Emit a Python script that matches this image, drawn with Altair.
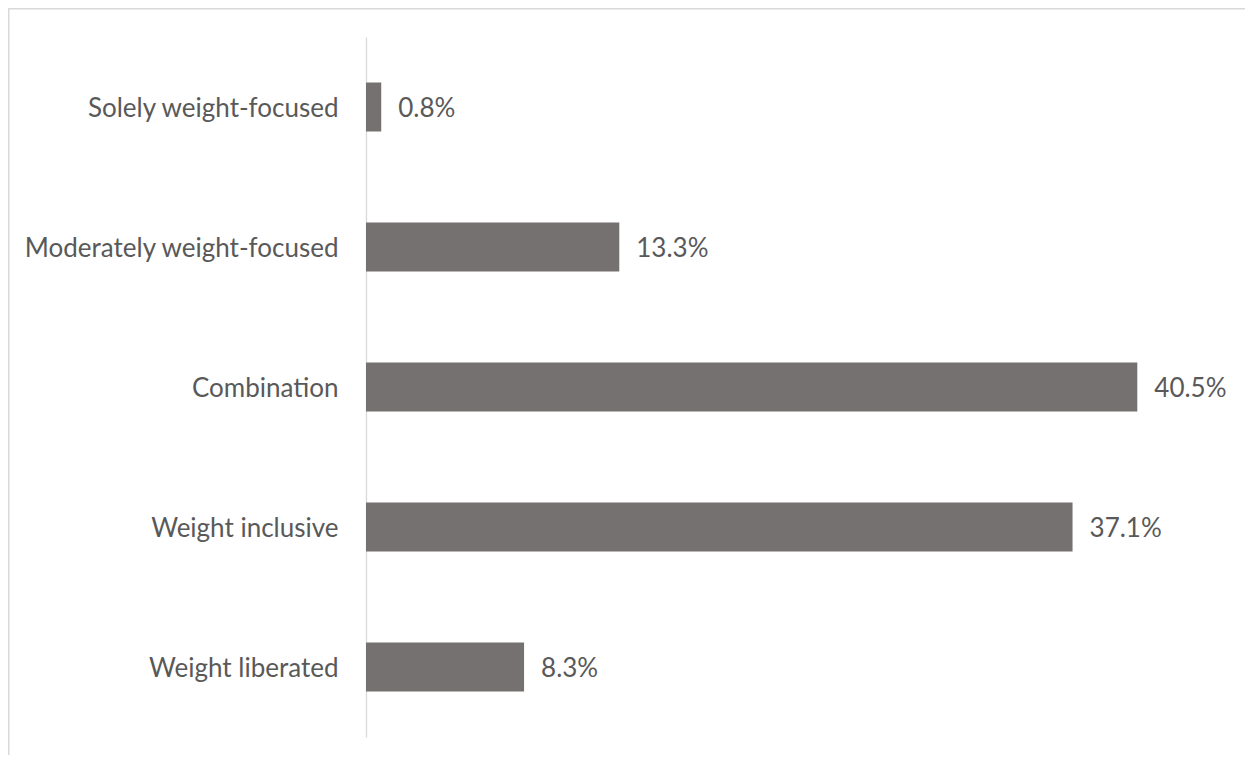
import altair as alt
import pandas as pd

categories = ["Solely weight-focused", "Moderately weight-focused", "Combination",
              "Weight inclusive", "Weight liberated"]
values = [0.8, 13.3, 40.5, 37.1, 8.3]

df = pd.DataFrame({"category": categories, "value": values})

FONT = "Lato"
TEXT_COLOR = "#595959"
BAR_COLOR = "#767171"
LINE_COLOR = "#d9d9d9"
PAD_L, PAD_T = 358, 29
W, H = 857, 700
FS = 26

base = alt.Chart(df)

y_enc = alt.Y("category:N", sort=categories,
              scale=alt.Scale(paddingInner=0.65, paddingOuter=0.325),
              axis=alt.Axis(title=None, ticks=False, domainColor=LINE_COLOR,
                            domainWidth=1.3, labelFont=FONT, labelFontSize=FS,
                            labelColor=TEXT_COLOR, labelPadding=28, grid=False,
                            labelLimit=400, labelBaseline="middle", labelOffset=1.5))
x_enc = alt.X("value:Q", scale=alt.Scale(domain=[0, 45], nice=False), axis=None)

bars = base.mark_bar(color=BAR_COLOR).encode(x=x_enc, y=y_enc)

labels = base.transform_calculate(
    lab="format(datum.value, '.1f') + '%'"
).mark_text(align="left", baseline="middle", dx=17, dy=1.5, font=FONT, fontSize=FS,
            color=TEXT_COLOR).encode(x=x_enc, y=y_enc, text="lab:N")

frame_left = alt.Chart(df.head(1)).mark_rule(color=LINE_COLOR, strokeWidth=2).encode(
    x=alt.value(-PAD_L + 0.5), y=alt.value(-PAD_T), y2=alt.value(H + 60))
frame_top = alt.Chart(df.head(1)).mark_rule(color=LINE_COLOR, strokeWidth=2).encode(
    x=alt.value(-PAD_L), x2=alt.value(W + 40), y=alt.value(-PAD_T + 0.5))

chart = alt.layer(frame_left, frame_top, bars, labels).properties(
    width=W, height=H,
    autosize=alt.AutoSizeParams(type="none"),
    padding={"left": PAD_L, "top": PAD_T, "right": 22, "bottom": 18},
).configure(background="white", view=alt.ViewConfig(strokeWidth=0, stroke="transparent"))

chart.save("out.html", embed_options={"renderer": "svg", "actions": False})
